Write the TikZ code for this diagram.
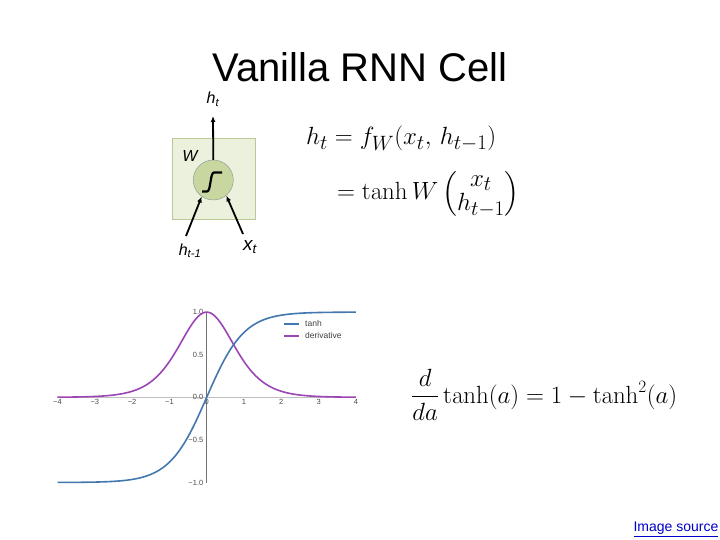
\documentclass[tikz,border=0pt]{standalone}
\usepackage[no-math]{fontspec}
\usepackage{amsmath}
\newfontfamily\arial{Liberation Sans}
\usetikzlibrary{arrows.meta,positioning,calc}
\definecolor{cellfill}{RGB}{236,241,222}
\definecolor{celldraw}{RGB}{186,202,150}
\definecolor{unitfill}{RGB}{200,214,160}
\definecolor{unitdraw}{RGB}{128,148,150}
\definecolor{tanhblue}{RGB}{66,120,174}
\definecolor{derivpurple}{RGB}{156,70,182}
\definecolor{linkblue}{RGB}{0,0,204}

\begin{document}
\begin{tikzpicture}[x=1pt,y=-1pt,
  lbl/.style={font=\arial\itshape\fontsize{16}{18}\selectfont,inner sep=0pt},
  arr/.style={-{Latex[length=6pt,width=5pt]},line width=1.8pt},
  eqn/.style={font=\fontsize{29}{34}\selectfont,inner sep=0pt},
  tick/.style={font=\arial\fontsize{7.5}{8}\selectfont,text=black!70,inner sep=0.5pt},
  legend/.style={font=\arial\fontsize{8.5}{9}\selectfont,text=black!75,inner sep=0pt},
  curve/.style={line width=1.6pt,smooth,samples=120,domain=-4:4}]
  \useasboundingbox (0,0) rectangle (720,540);
  \node[font=\arial\fontsize{40}{48}\selectfont,anchor=base] (title) at (360,82) {Vanilla RNN Cell};

  % the cell
  \node[draw=celldraw,fill=cellfill,minimum width=83,minimum height=81,inner sep=0pt] (box) at (214,179) {};
  \node[circle,draw=unitdraw,fill=unitfill,minimum size=40,inner sep=0pt] (unit) at (213.3,180) {};
  \draw[line width=2.2pt] (202,191.5) -- (207,191.5) .. controls (211,191.5) and (210,172.5) .. (214,172.5) -- (222,172.5);
  \node[lbl,anchor=base] (ht) at (213,104) {h\textsubscript{t}};
  \node[lbl,anchor=base] (w) at (190,162) {W};
  \node[lbl,anchor=base] (hprev) at (190,255) {h\textsubscript{t-1}};
  \node[lbl,font=\arial\itshape\fontsize{19}{21}\selectfont,anchor=base] (xin) at (250,251) {x\textsubscript{t}};
  \coordinate (top) at (213,116);
  \coordinate (hfoot) at (186,236);
  \coordinate (xfoot) at (243,234);
  \draw[arr] (unit.north) -- (top);
  \draw[arr] (hfoot) -- (unit.235);
  \draw[arr] (xfoot) -- (unit.-50);

  % equations
  \node[eqn,anchor=base west] (eq1) at (306,145) {$h_t = f_W(x_t,\, h_{t-1})$};
  \node[eqn,anchor=base west] (eq2) at (337,200)
    {\renewcommand{\arraystretch}{0.72}$= \tanh W \begin{pmatrix} x_t\\ h_{t-1}\end{pmatrix}$};
  \node[eqn,font=\fontsize{27}{32}\selectfont,anchor=base west] (deq) at (411,403) {$\dfrac{d}{da}\tanh(a) = 1-\tanh^2(a)$};

  % tanh plot
  \draw[black!25,line width=0.8pt] (57,397.3) -- (356,397.3);
  \draw[black!55,line width=0.8pt] (206.7,312.3) -- (206.7,482.7);
  \foreach \t [count=\i] in {-4,...,4}
    \node[tick,anchor=north] (xl\i) at ({206.7+37.3*\t},399) {\ifnum\t<0 −\the\numexpr-\t\relax\else\t\fi};
  \foreach \v/\s [count=\i] in {1/1.0,0.5/0.5,0/0.0,-0.5/−0.5,-1/−1.0}
    \node[tick,anchor=east] (yl\i) at (204,{397.3-85.2*\v}) {\s};
  \draw[derivpurple,curve] plot ({206.7+37.3*\x},{397.3-85.2*(1-tanh(\x)^2)});
  \draw[tanhblue,curve] plot ({206.7+37.3*\x},{397.3-85.2*tanh(\x)});
  \node[legend,anchor=west] (lgt) at (305,323.5) {tanh};
  \node[legend,anchor=west] (lgd) at (305,335.5) {derivative};
  \draw[tanhblue,line width=2pt] ([xshift=-21pt]lgt.west) -- ([xshift=-6pt]lgt.west);
  \draw[derivpurple,line width=2pt] ([xshift=-21pt]lgd.west) -- ([xshift=-6pt]lgd.west);

  \node[font=\arial\fontsize{14}{16}\selectfont,text=linkblue,anchor=base] (src) at (676,531) {\underline{Image source}};
\end{tikzpicture}
\end{document}
